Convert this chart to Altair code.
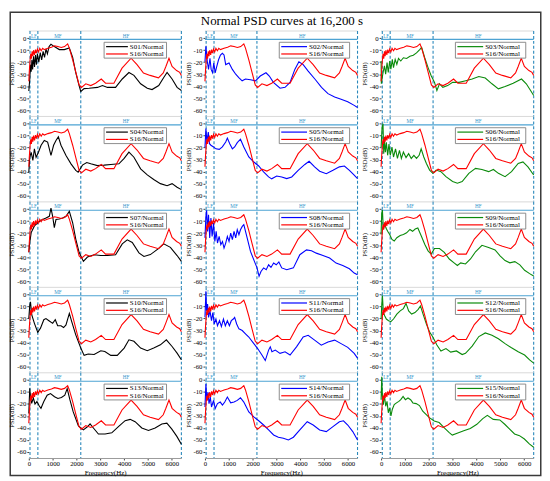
import altair as alt
import pandas as pd

# ---------------- data ----------------
F16 = [0,20,50,80,110,140,170,200,240,280,320,360,410,460,520,580,650,800,950,1080,1220,1360,1500,1630,1700,1840,1980,2110,2210,2390,2600,2800,3040,3220,3570,3910,4290,4540,4810,5090,5440,5640,5750,5880,6010,6200,6330,6400]
P16 = [-36,-28,-19,-13,-17,-11,-15,-10,-14,-9.5,-12.5,-9,-11.5,-8.5,-10.5,-8.5,-9.5,-8.3,-7.5,-6.4,-7,-7.8,-7,-4.7,-8.3,-18,-29,-39,-41,-38,-39.5,-37.5,-34,-37.5,-37.5,-25,-16.7,-22,-29,-31,-33,-29,-23.6,-16.7,-23.6,-27,-28.5,-31]

S01_F = [0,40,70,100,130,160,200,240,280,320,360,420,480,540,600,660,720,780,850,930,1070,1280,1490,1700,1840,1970,2110,2180,2320,2530,2880,3090,3300,3640,3920,4200,4410,4690,4970,5170,5450,5660,5800,6010,6220,6400]
S01_P = [-44,-34,-22,-28,-18,-26,-15,-24,-14,-22,-13,-20,-12,-18,-11,-16,-9,-13,-7,-5,-7,-9.5,-9.5,-8.2,-16,-28.6,-39.5,-44.4,-42,-41.7,-41,-39.5,-41,-41,-34,-28.6,-31,-38,-41.7,-42.8,-39.5,-32.7,-28.6,-34,-41,-43.6]

S02_F = [0,40,100,150,210,260,320,370,430,480,570,650,730,800,870,1010,1150,1290,1420,1560,1700,1910,2120,2320,2560,2700,2870,3150,3360,3570,3770,3940,4120,4330,4610,4890,5160,5440,5710,5990,6260,6400]
S02_P = [-19.6,-6.7,-19.6,-26,-16.7,-26,-28.8,-20.7,-28.8,-24.7,-18,-14,-12.6,-14,-22,-20.7,-26,-30,-32.8,-35.5,-34,-34.7,-35.5,-31.5,-28.8,-31.5,-36.8,-41.7,-40.9,-36.8,-26,-19.6,-22,-27.4,-34,-40.9,-46.2,-49,-50.8,-53,-56,-57.8]

S03_F = [0,10,70,140,190,250,300,360,410,470,520,590,660,730,825,935,1070,1210,1350,1485,1620,1700,1830,1970,2100,2240,2340,2450,2590,2790,3000,3270,3550,3820,4100,4370,4650,4920,5200,5540,5890,6090,6270,6400]
S03_P = [-19,-38,-30,-23,-30,-20.4,-28.6,-19,-25.9,-17.7,-24.5,-17.7,-21.8,-16.9,-19,-16.3,-16.9,-15,-14.2,-12.3,-9.5,-7.6,-16.3,-24.5,-31.3,-36.8,-43.6,-38,-40.9,-39.5,-36.8,-36.8,-35.4,-34,-32,-33.2,-38,-42.2,-40.3,-37.6,-34,-38,-43.6,-47.7]

S04_F = [0,40,100,170,235,305,400,515,650,790,930,1040,1140,1240,1350,1560,1770,1970,2070,2250,2430,2600,2880,3160,3440,3780,4000,4200,4410,4690,4970,5240,5520,5800,6010,6220,6400]
S04_P = [-40.5,-28,-24,-30.7,-21,-28,-24,-18,-14,-15.4,-26.5,-18,-14,-11,-18,-26.5,-33.5,-39,-40.5,-34.6,-32.4,-33.5,-35,-34.6,-34,-33.5,-29,-23.7,-28,-37.7,-42.7,-46.6,-50,-51.7,-50,-53,-55]

S05_F = [0,40,80,140,190,250,360,460,600,730,870,940,1040,1150,1245,1355,1490,1630,1840,2050,2255,2460,2670,2800,3010,3220,3430,3640,3910,4190,4370,4600,4810,5090,5370,5640,5850,6060,6260,6400]
S05_P = [-20,-4,-15,-7,-16.7,-18,-19.4,-21,-21.4,-19.4,-15.3,-12,-16.7,-21,-19.4,-15.8,-13,-19.4,-27.8,-32,-35.3,-40.3,-44.4,-46,-43.6,-44.4,-45.8,-44.4,-38.9,-34,-31.4,-36,-39.7,-41.7,-38.9,-36,-35.3,-38.9,-43,-45.8]

S06_F = [0,40,80,110,140,180,220,275,330,385,455,520,605,685,770,850,935,1045,1155,1265,1375,1485,1595,1680,1790,1900,2035,2170,2310,2510,2720,3000,3200,3400,3680,3960,4230,4510,4710,4920,5200,5470,5750,5950,6160,6400]
S06_P = [-19.6,-3.3,0,-25,-14,-23.7,-15.5,-26.4,-17,-26.4,-19.6,-27.8,-21,-29,-22.3,-29,-23.7,-28.3,-25,-29,-26.4,-29,-26.4,-21,-27.8,-33.2,-38.7,-41.4,-38.7,-40,-44.2,-48.2,-49.6,-48.2,-41.4,-37.3,-38.2,-40,-38.2,-41.4,-44.2,-40,-33.2,-31.9,-36,-42.8]

S07_F = [0,40,100,235,375,515,720,860,930,1000,1070,1140,1280,1420,1560,1700,1840,1970,2110,2290,2460,2740,3020,3300,3640,3920,4130,4340,4620,4830,5100,5450,5660,5940,6220,6400]
S07_P = [-36,-27.8,-19.6,-14,-11.4,-9.3,-7.4,-6,0.8,-6,-15.5,-8.7,-8.2,-7.4,-6,-1.9,-11.4,-25,-36,-43.6,-40,-38,-38.7,-38.7,-38,-29,-25.6,-27.8,-36.5,-39.5,-37.9,-32.7,-29,-31.9,-38.7,-43.6]

S08_F = [0,40,70,110,150,200,250,300,360,415,470,525,595,665,735,800,870,940,1010,1080,1150,1220,1290,1355,1425,1490,1565,1630,1770,1910,2075,2185,2270,2350,2460,2570,2670,2770,2880,2990,3100,3220,3430,3710,3980,4260,4470,4670,4950,5230,5500,5780,6060,6260,6400]
S08_P = [-24,-6,-1,-18.6,-4.7,-24,-7.5,-22.8,-11.7,-27,-18.6,-28.3,-22.8,-29.7,-27,-32.5,-28.3,-22.8,-27,-20,-25.5,-18.6,-24,-17.2,-21.4,-17.2,-14.4,-13,-24,-35.3,-43.6,-49,-56,-52,-49,-50.5,-46.4,-48.6,-45,-46.4,-44,-49,-50.5,-49,-38,-34,-34.7,-36.7,-38.6,-40.8,-45,-47,-49.7,-53.3,-54.7]

S09_F = [0,25,55,95,150,205,275,360,455,550,660,800,935,1070,1210,1320,1430,1540,1690,1830,1970,2100,2240,2450,2650,2860,3060,3200,3340,3540,3750,3960,4230,4510,4780,4990,5200,5400,5610,5820,6020,6230,6400]
S09_P = [-21.2,-3.5,-0.8,-17,-11.7,-15.8,-18.5,-21.2,-25.3,-26.6,-23.9,-22,-21.2,-19.8,-17,-18.5,-16.6,-15.8,-22.6,-29.3,-34.8,-37.5,-32.9,-32.9,-36.1,-41.6,-44.8,-47,-44.8,-45.7,-41.6,-35.6,-30.2,-32,-34,-38.9,-42.9,-44.8,-43.8,-46.5,-51,-53.8,-55.7]

S10_F = [0,40,70,125,235,375,490,630,720,860,1000,1110,1210,1350,1460,1560,1700,1800,1970,2180,2320,2490,2740,3020,3190,3440,3710,4000,4200,4410,4690,4970,5240,5520,5770,6010,6220,6400]
S10_P = [-20,-9,-6,-17,-24,-31.4,-28,-21,-20,-22,-24,-21,-26,-26,-27.5,-25.3,-15.7,-22.6,-33.6,-44.6,-50.7,-49.6,-50,-46.8,-47.4,-50.7,-50.7,-44.6,-37.7,-39,-44.6,-46.8,-44.6,-41.9,-37.7,-43.3,-48.8,-54.3]

S11_F = [0,40,70,110,150,210,275,330,390,460,525,610,690,775,855,940,1025,1105,1190,1245,1330,1425,1565,1700,1840,2050,2210,2390,2530,2670,2740,2810,2950,3150,3360,3570,3840,4120,4330,4600,4880,5160,5440,5710,5990,6260,6400]
S11_P = [-19,2.7,-13.6,-8,-19,-13.6,-21.8,-15,-24.5,-20.4,-26,-21.8,-26.7,-20.4,-26,-21.8,-26,-21.8,-20.4,-19,-24.5,-28.6,-30,-32.7,-35.4,-40.9,-45,-50.4,-55,-46.3,-43.6,-47.7,-46.3,-49,-47.7,-50.4,-43.6,-35.4,-34,-38,-42.2,-39.5,-38,-40.9,-44,-49,-53]

S12_F = [0,25,55,95,150,220,315,410,520,660,800,935,1045,1155,1280,1420,1555,1650,1760,1900,2035,2170,2340,2510,2720,2920,3160,3400,3540,3820,4100,4370,4650,4920,5200,5470,5750,6020,6230,6400]
S12_P = [-20.4,-9.5,-0.8,-15,-17.7,-20.4,-21.8,-22.6,-20.4,-16.3,-13.6,-11.7,-7.4,-13.6,-16.3,-15,-12.3,-9.5,-16.3,-24.5,-31.3,-35.4,-42,-47,-45,-48,-47,-50,-49,-43,-35,-32,-34,-36.8,-40.9,-44.4,-47.7,-50.4,-54.5,-57.2]

S13_F = [0,20,40,70,120,190,260,340,440,510,630,770,910,1080,1220,1370,1510,1610,1720,1860,2080,2290,2470,2570,2710,2920,3200,3480,3760,4040,4250,4460,4740,5020,5300,5580,5790,6000,6210,6400]
S13_P = [-28,-17,-7,-14,-19.5,-15,-20,-18,-21.7,-23.6,-18,-12.7,-11.3,-14,-15.4,-14.6,-12.7,-7.2,-16.2,-26.4,-38.3,-41.6,-38.8,-36.6,-40,-45,-45,-44,-38.8,-33.9,-32.8,-34.7,-40,-42,-40,-36.6,-36,-41,-47,-53.5]

S14_F = [0,40,80,125,170,225,275,360,430,525,640,735,830,940,1080,1220,1355,1490,1630,1840,2050,2255,2460,2670,2880,3080,3290,3500,3710,3980,4290,4540,4810,5090,5370,5640,5810,5990,6200,6400]
S14_P = [-22.5,-3.3,-17,-10,-19.7,-14.2,-22.5,-17,-23.8,-19.7,-18.4,-21,-18.4,-14.2,-19,-18.4,-17,-14.8,-18.4,-26.6,-30.7,-34,-37.5,-41.6,-45.8,-47.7,-48.5,-50,-47.7,-41.6,-34.8,-37.5,-41.6,-43,-38.9,-34.8,-34,-37.5,-43,-50]

S15_F = [0,27,55,96,138,193,248,303,358,413,468,550,646,743,825,922,1018,1128,1238,1334,1472,1609,1747,1884,2022,2228,2435,2641,2847,2985,3191,3466,3741,4017,4264,4457,4704,4979,5186,5392,5598,5805,6011,6217,6400]
S15_P = [-16.4,2.7,-13.7,-20.5,-12.3,-21.9,-17.8,-27.3,-23.2,-30,-24.6,-20.5,-19.1,-17.8,-16.4,-13.7,-16.4,-15,-16.4,-19.1,-19.7,-21.3,-26,-28.7,-31.4,-34.2,-35.5,-39.6,-43.7,-45.9,-44.3,-42.3,-40.4,-36.9,-32.2,-29.5,-32.8,-33.3,-36.9,-41,-45,-46.4,-49.2,-53.3,-56]

NAMES = ["S01/Normal","S02/Normal","S03/Normal","S04/Normal","S05/Normal","S06/Normal",
         "S07/Normal","S08/Normal","S09/Normal","S10/Normal","S11/Normal","S12/Normal",
         "S13/Normal","S14/Normal","S15/Normal"]
REF_NAME = "S16/Normal"
SERIES_F = [S01_F,S02_F,S03_F,S04_F,S05_F,S06_F,S07_F,S08_F,S09_F,S10_F,S11_F,S12_F,S13_F,S14_F,S15_F]
SERIES_P = [S01_P,S02_P,S03_P,S04_P,S05_P,S06_P,S07_P,S08_P,S09_P,S10_P,S11_P,S12_P,S13_P,S14_P,S15_P]

BAND_EDGES = [50, 380, 2180, 6400]
BAND_LABEL_F = [215, 1220, 4080]
BAND_LABELS = ["LF", "MF", "HF"]
X_TICKS = [0, 1000, 2000, 3000, 4000, 5000, 6000]
Y_TICKS = [-60, -50, -40, -30, -20, -10, 0]
TITLE = "Normal PSD curves at 16,200 s"

# ---------------- styling ----------------
FONT = "Liberation Serif"
COL_COLORS = ["#000000", "#0000ff", "#0a8a0a"]
RED = "#ff0000"
DASH_COLOR = "#2a88bb"
BRACKET_COLOR = "#4da3d3"
W, H = 154, 86
XDOM = [0, 6400]
YDOM = [-65, 6]

for f, p in zip(SERIES_F + [F16], SERIES_P + [P16]):
    assert len(f) == len(p)

ref_df = pd.DataFrame({"f": F16, "db": P16})
edges_df = pd.DataFrame({"f": BAND_EDGES})
labels_df = pd.DataFrame({"f": BAND_LABEL_F, "db": [2.2] * 3, "lab": BAND_LABELS})
bracket_df = pd.DataFrame({"f": [XDOM[0]], "f2": [XDOM[1]], "db": [-1.0]})
one = pd.DataFrame({"k": [0]})


def X(show_axis):
    if show_axis:
        ax = alt.Axis(values=X_TICKS, title="Frequency(Hz)", labelFontSize=6.8,
                      labelExpr="'' + datum.value",
                      titleFontSize=7, titlePadding=1, labelPadding=1, tickSize=2,
                      domainColor="#9a9a9a", tickColor="#444", labelFlush=False)
    else:
        ax = None
    return alt.X("f:Q", scale=alt.Scale(domain=XDOM, nice=False, zero=False), axis=ax)


def Y():
    return alt.Y("db:Q", scale=alt.Scale(domain=YDOM, nice=False, zero=False),
                 axis=alt.Axis(values=Y_TICKS, title="PSD(dB)", labelFontSize=6.8,
                               labelExpr="'' + datum.value", titleFontSize=6.5,
                               titlePadding=2, labelPadding=1, tickSize=2, domain=False,
                               tickColor="#444"))


def panel(i):
    row, col = divmod(i, 3)
    show_x = row == 4
    color = COL_COLORS[col]
    name = NAMES[i]
    df = pd.DataFrame({"f": SERIES_F[i], "db": SERIES_P[i]})

    layers = []
    layers.append(alt.Chart(one).mark_rule(color="#cfcfcf", strokeWidth=0.8).encode(
        x=alt.value(0), x2=alt.value(W), y=alt.value(0)))
    layers.append(alt.Chart(edges_df).mark_rule(color=DASH_COLOR, strokeDash=[3, 2],
                                                strokeWidth=1.1).encode(x=X(show_x)))
    layers.append(alt.Chart(bracket_df).mark_rule(color=BRACKET_COLOR, strokeWidth=1.1).encode(
        x=X(show_x), x2="f2:Q", y=Y()))
    layers.append(alt.Chart(labels_df).mark_text(font=FONT, fontSize=5.2, color="#3596cc",
                                                 baseline="middle").encode(
        x=X(show_x), y=Y(), text="lab:N"))
    layers.append(alt.Chart(df).mark_line(color=color, strokeWidth=1.1).encode(
        x=X(show_x), y=Y()))
    layers.append(alt.Chart(ref_df).mark_line(color=RED, strokeWidth=1.1).encode(
        x=X(show_x), y=Y()))

    # legend box
    if col == 0:
        bx0, bx1, lx0, lx1, tx, fs = 76, 139, 78, 100, 102, 7.0
    else:
        bx0, bx1, lx0, lx1, tx, fs = 75, 146, 77, 103, 105, 7.2
    by0, by1 = 11.4, 27.4
    ry = [15.8, 23.2]
    layers.append(alt.Chart(one).mark_rect(fill="white", stroke="#808080", strokeWidth=0.9).encode(
        x=alt.value(bx0), x2=alt.value(bx1), y=alt.value(by0), y2=alt.value(by1)))
    for yy, c, lab in [(ry[0], color, name), (ry[1], RED, REF_NAME)]:
        layers.append(alt.Chart(one).mark_rule(color=c, strokeWidth=1.2).encode(
            x=alt.value(lx0), x2=alt.value(lx1), y=alt.value(yy)))
        layers.append(alt.Chart(one).mark_text(font=FONT, fontSize=fs, align="left",
                                               baseline="middle", color="black").encode(
            x=alt.value(tx), y=alt.value(yy), text=alt.value(lab)))

    if i == 0:
        # figure frame and title (pixel positions relative to the first panel)
        layers.append(alt.Chart(one).mark_rect(fillOpacity=0, stroke="#3a3a3a", strokeWidth=1.5).encode(
            x=alt.value(-18.75), x2=alt.value(516.75), y=alt.value(-18.95), y2=alt.value(448.6)))
        layers.append(alt.Chart(one).mark_text(font=FONT, fontSize=13, align="center",
                                               baseline="middle", color="black").encode(
            x=alt.value(255.5), y=alt.value(-10.5), text=alt.value(TITLE)))

    return alt.layer(*layers).properties(width=W, height=H)


panels = [panel(i) for i in range(15)]

chart = alt.concat(*panels, columns=3, spacing={"row": 0.25, "column": 23.8},
                   bounds="flush").properties(padding=0, background="white").configure_view(
    stroke="transparent").configure_axis(
    labelFont=FONT, titleFont=FONT, labelColor="black", titleColor="black",
    titleFontWeight="normal", grid=False)

chart.save("out.html", embed_options={"renderer": "svg", "actions": False})
